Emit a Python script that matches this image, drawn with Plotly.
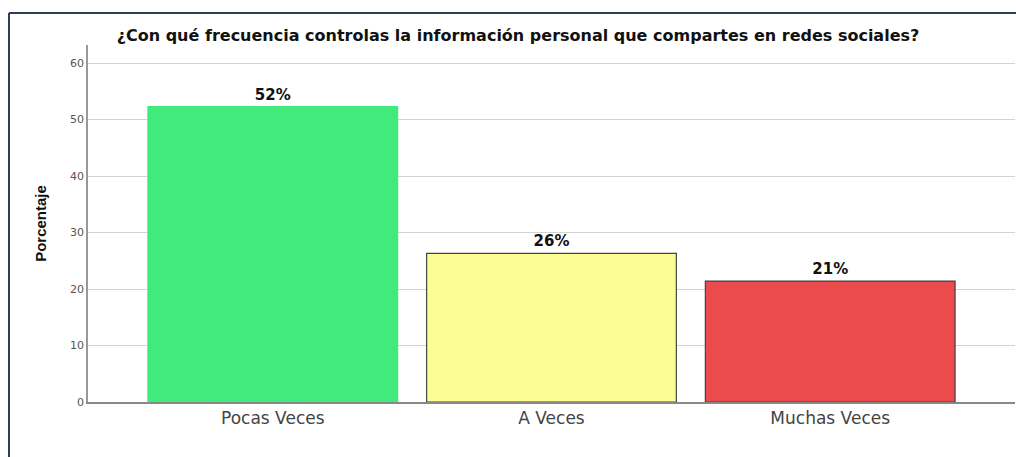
import plotly.graph_objects as go

categories = ["Pocas Veces", "A Veces", "Muchas Veces"]
values = [52.3, 26.3, 21.4]
labels = ["52%", "26%", "21%"]
colors = ["#42EA7E", "#FDFD96", "#EB4B4C"]
border_colors = ["#42EA7E", "#444444", "#444444"]
y_ticks = [0, 10, 20, 30, 40, 50, 60]

W, H = 1016, 457
L, R, T, B = 88, 1, 45, 55
FONT = "DejaVu Sans, Verdana, Arial"

fig = go.Figure()
fig.add_trace(go.Bar(
    x=categories, y=values,
    width=0.896,
    marker=dict(color=colors, line=dict(color=border_colors, width=1.2)),
    text=labels, texttemplate="<b>%{text}</b>", textposition="outside",
    textfont=dict(family=FONT, size=15, color="#111111"),
    cliponaxis=False,
))

pw = W - L - R
ph = H - T - B
fig.update_layout(
    width=W, height=H,
    margin=dict(l=L, r=R, t=T, b=B),
    paper_bgcolor="white", plot_bgcolor="white",
    showlegend=False,
    title=dict(text="<b>¿Con qué frecuencia controlas la información personal que compartes en redes sociales?</b>",
               x=(518 - L) / pw, xref="paper", xanchor="center",
               y=1 - 35 / H, yanchor="middle",
               font=dict(family=FONT, size=16, color="#111111")),
    xaxis=dict(range=[-0.663, 2.663], showgrid=False, showline=True, linecolor="#888888",
               linewidth=1.5, ticks="", tickfont=dict(family=FONT, size=17, color="#444444")),
    yaxis=dict(range=[0, 63.2], tickvals=y_ticks, showgrid=True, gridcolor="#D4D4D4", gridwidth=1,
               showline=True, linecolor="#999999", linewidth=1.5, ticks="", zeroline=False,
               tickfont=dict(family=FONT, size=11, color="#555555"),
               title=dict(text="<b>Porcentaje</b>", standoff=20,
                          font=dict(family="Liberation Sans Narrow, Arial Narrow, Arial", size=15, color="#111111"))),
    bargap=0.104,
)

# outer frame lines (left and top)
x_left = (9 - L) / pw
y_top = (H - B - 13) / ph
y_bottom = (H - B - H) / ph
fig.add_shape(type="line", xref="paper", yref="paper", x0=x_left, x1=x_left, y0=y_bottom, y1=y_top,
              line=dict(color="#2E4057", width=2))
fig.add_shape(type="line", xref="paper", yref="paper", x0=x_left, x1=(W - L) / pw + 0.01, y0=y_top, y1=y_top,
              line=dict(color="#2E4057", width=2))

fig.write_html("out.html", config={"displayModeBar": False},
               post_script="document.body.style.margin='0px';")
